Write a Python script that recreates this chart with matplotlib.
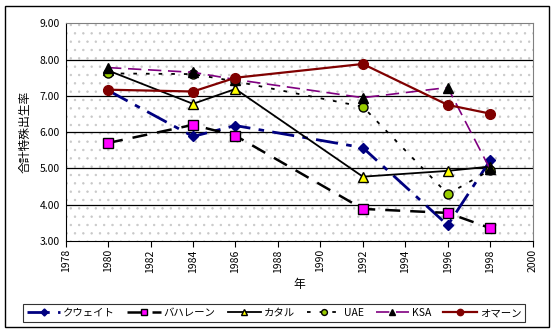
import matplotlib
matplotlib.use("Agg")
import matplotlib as mpl
import matplotlib.pyplot as plt
from matplotlib.patches import Rectangle

plt.rcParams['font.family'] = ['Noto Sans CJK JP', 'DejaVu Sans']
mpl.rcParams['hatch.color'] = '#c8c8c8'
mpl.rcParams['hatch.linewidth'] = 0.5

years = [1980, 1984, 1986, 1992, 1996, 1998]
kuwait = [7.15, 5.88, 6.18, 5.57, 3.43, 5.22]
bahrain = [5.70, 6.20, 5.90, 3.88, 3.77, 3.35]
qatar = [7.70, 6.78, 7.19, 4.77, 4.93, 5.05]
uae = [7.62, 7.60, 7.40, 6.70, 4.29, 4.95]
ksa = [7.78, 7.65, 7.45, 6.95, 7.23, 4.97]
oman = [7.17, 7.12, 7.50, 7.88, 6.75, 6.51]
names = ['クウェイト', 'バハレーン', 'カタル', 'UAE', 'KSA', 'オマーン']
xticks = list(range(1978, 2001, 2))
yticks = [3, 4, 5, 6, 7, 8, 9]

fig = plt.figure(figsize=(5.56, 3.34), dpi=100)
ax = fig.add_axes([0.118, 0.279, 0.840, 0.651])

# dotted background
ax.add_patch(Rectangle((0, 0), 1, 1, transform=ax.transAxes, facecolor='white',
                       hatch='..', linewidth=0, zorder=0))

for y in yticks[1:-1]:
    ax.axhline(y, color='black', linewidth=0.9, zorder=1)

styles = [
    dict(color='#000080', linestyle=(0, (8, 3, 2, 3)), marker='D', mfc='#000080', mec='#000080', ms=5.5, lw=2.0),
    dict(color='black', linestyle=(0, (6, 4)), marker='s', mfc='#ff00ff', mec='black', ms=7, lw=1.8),
    dict(color='black', linestyle='-', marker='^', mfc='#ffff00', mec='black', ms=7, lw=1.3),
    dict(color='black', linestyle=(0, (2, 5)), marker='o', mfc='#99cc00', mec='black', ms=6.5, lw=1.3),
    dict(color='#800080', linestyle=(0, (8, 4)), marker='^', mfc='black', mec='black', ms=7, lw=1.2),
    dict(color='#800000', linestyle='-', marker='o', mfc='#800000', mec='#800000', ms=7, lw=1.6),
]
series = [kuwait, bahrain, qatar, uae, ksa, oman]
handles = []
for s, name, st in zip(series, names, styles):
    ln, = ax.plot(years, s, label=name, zorder=3, **st)
    handles.append(ln)

ax.set_xlim(1978, 2000)
ax.set_ylim(3, 9)
ax.set_xticks(xticks)
ax.set_xticklabels([str(x) for x in xticks], rotation=90, fontsize=7.5)
ax.set_yticks(yticks)
ax.set_yticklabels([f'{y:.2f}' for y in yticks], fontsize=7.5)
ax.tick_params(axis='x', direction='out', length=4, width=0.8, pad=2)
ax.tick_params(axis='y', direction='out', length=0, pad=4)
for sp in ['top', 'right']:
    ax.spines[sp].set_color('#808080')
    ax.spines[sp].set_linewidth(0.8)
for sp in ['left', 'bottom']:
    ax.spines[sp].set_color('black')
    ax.spines[sp].set_linewidth(0.8)
ax.set_xlabel('年', fontsize=8.5, labelpad=4)
ax.set_ylabel('合計特殊出生率', fontsize=8.5, labelpad=6)

leg = fig.legend(handles=handles, loc='center', bbox_to_anchor=(0.493, 0.063),
                 ncol=6, fontsize=7.5, frameon=True, fancybox=False,
                 edgecolor='black', handlelength=3.2, handletextpad=0.3,
                 columnspacing=1.15, borderpad=0.4, markerscale=0.65)
leg.get_frame().set_linewidth(0.8)

fig.patches.append(Rectangle((5/556, 1 - 327/334), 544/556, 321/334,
                             transform=fig.transFigure, fill=False,
                             edgecolor='black', linewidth=1.0))

fig.savefig('out.png', dpi=100)
